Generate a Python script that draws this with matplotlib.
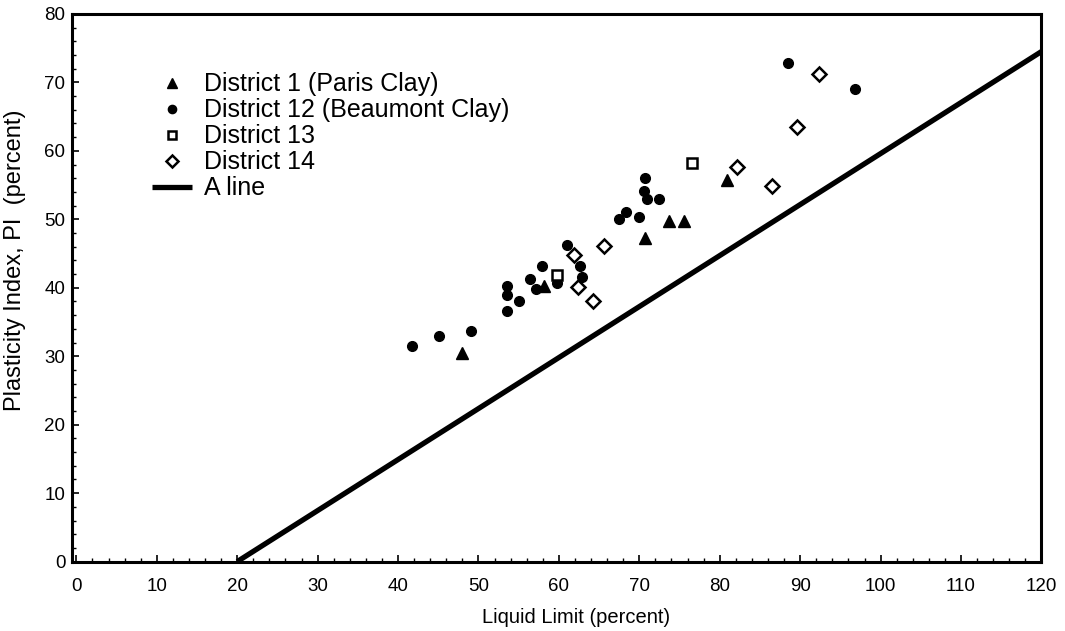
import matplotlib
matplotlib.use("Agg")
import matplotlib.pyplot as plt
from matplotlib.ticker import MultipleLocator

plt.rcParams['font.family'] = ['Liberation Sans', 'DejaVu Sans']

# --- DATA ---
# District 1 (Paris Clay)
d1_ll = [47.9, 58.1, 70.7, 73.7, 75.6, 80.9]
d1_pi = [30.4, 40.2, 47.2, 49.7, 49.7, 55.8]

# District 12 (Beaumont Clay)
d12_ll = [41.7, 45.1, 49.1, 53.5, 53.5, 53.5, 55.0, 56.4, 57.9, 57.1, 59.8, 61.0,
          62.6, 62.9, 67.5, 68.4, 70.0, 70.7, 70.6, 71.0, 72.5, 88.5, 96.8]
d12_pi = [31.5, 33.0, 33.7, 40.2, 39.0, 36.6, 38.0, 41.3, 43.2, 39.8, 40.7, 46.3,
          43.2, 41.6, 50.1, 51.0, 50.3, 56.0, 54.1, 52.9, 52.9, 72.8, 69.0]

# District 13
d13_ll = [59.8, 76.6]
d13_pi = [41.8, 58.2]

# District 14
d14_ll = [61.9, 65.6, 62.4, 64.2, 82.2, 86.5, 92.3, 89.6]
d14_pi = [44.8, 46.1, 40.1, 38.0, 57.6, 54.9, 71.2, 63.5]

# A line
aline_ll = [20, 120]
aline_pi = [0, 74.5]

# --- PLOT ---
fig = plt.figure(figsize=(10.65, 6.31), dpi=100)
ax = fig.add_axes([0.0679, 0.110, 0.910, 0.868])

ax.plot(d1_ll, d1_pi, linestyle='none', marker='^', color='black', markersize=8,
        label='District 1 (Paris Clay)')
ax.plot(d12_ll, d12_pi, linestyle='none', marker='o', color='black', markersize=7,
        label='District 12 (Beaumont Clay)')
ax.plot(d13_ll, d13_pi, linestyle='none', marker='s', markerfacecolor='white',
        markeredgecolor='black', markeredgewidth=1.8, markersize=7, label='District 13')
ax.plot(d14_ll, d14_pi, linestyle='none', marker='D', markerfacecolor='white',
        markeredgecolor='black', markeredgewidth=1.8, markersize=7.5, label='District 14')
ax.plot(aline_ll, aline_pi, color='black', linewidth=3.8, solid_capstyle='butt',
        label='A line')

ax.set_xlim(-0.5, 120)
ax.set_ylim(0, 80)
ax.xaxis.set_major_locator(MultipleLocator(10))
ax.yaxis.set_major_locator(MultipleLocator(10))
ax.xaxis.set_minor_locator(MultipleLocator(2))
ax.yaxis.set_minor_locator(MultipleLocator(2))
ax.tick_params(which='major', direction='in', length=5, width=1.2, labelsize=13.5)
ax.tick_params(axis='x', which='major', pad=12)
ax.tick_params(axis='y', which='major', pad=5)
ax.tick_params(which='minor', direction='in', length=3, width=1)
for s in ax.spines.values():
    s.set_linewidth(2.2)

ax.set_xlabel('Liquid Limit (percent)', fontsize=14.5)
ax.set_ylabel('Plasticity Index, PI  (percent)', fontsize=17)
ax.xaxis.set_label_coords(0.52, -0.085)
ax.yaxis.set_label_coords(-0.048, 0.55)

leg = ax.legend(loc='upper left', bbox_to_anchor=(0.082, 0.893), frameon=False,
                fontsize=18, markerscale=0.85, handlelength=1.6, handletextpad=0.5,
                labelspacing=0.08, borderpad=0, borderaxespad=0)

fig.savefig('out.png', dpi=100)
